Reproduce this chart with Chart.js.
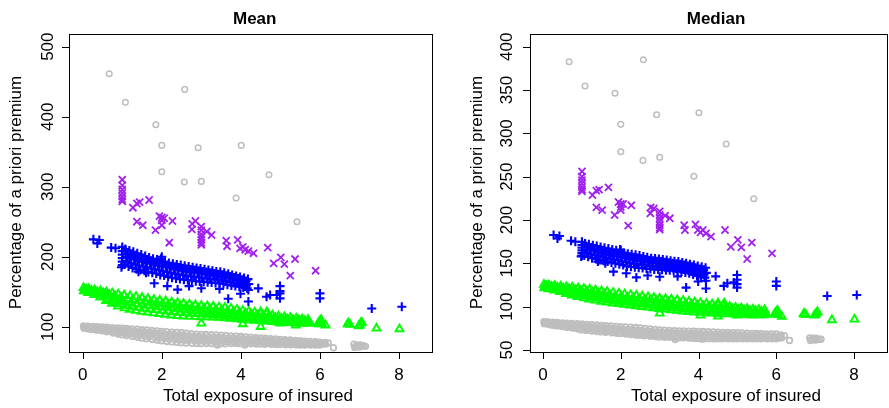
<!DOCTYPE html>
<html>
<head>
<meta charset="utf-8">
<script src="https://cdn.jsdelivr.net/npm/chart.js@4.4.1/dist/chart.umd.min.js"></script>
<style>
html, body { margin: 0; padding: 0; background: #fff; }
#wrap { position: relative; width: 889px; height: 408px; overflow: hidden; background: #fff; }
#meanChart { position: absolute; left: 0; top: 0; }
#medianChart { position: absolute; left: 444px; top: 0; }
</style>
</head>
<body>
<div id="wrap">
  <canvas id="meanChart" width="444" height="408"></canvas>
  <canvas id="medianChart" width="450" height="408"></canvas>
</div>
<script>
// tick labels
const xTicks = [0, 2, 4, 6, 8];
const meanTicks = [100, 200, 300, 400, 500];
const medianTicks = [50, 100, 150, 200, 250, 300, 350, 400];

// class 0 (grey circles, no claims): exposure, mean %, median %
const zeroExposure = [
  0.02,0.04,0.03, 0.13,0.11,0.15, 0.25,0.27,0.24, 0.37,0.39,0.36, 0.50,0.52,0.49,
  0.62,0.64,0.61, 0.75,0.74,0.77, 0.88,0.87,0.90, 1.00,1.01,0.99, 1.12,1.13,1.11,
  1.25,1.24,1.26, 1.38,1.37,1.39, 1.50,1.51,1.49, 1.62,1.63,1.61, 1.75,1.74,1.76,
  1.88,1.87,1.89, 2.00,2.01,1.99, 2.12,2.11,2.13, 2.25,2.24,2.26, 2.38,2.37,2.39,
  2.50,2.51,2.49, 2.62,2.63,2.61, 2.75,2.74,2.76, 2.88,2.87,2.89, 3.00,3.01,2.99,
  3.12,3.11,3.13, 3.25,3.24,3.26, 3.38,3.37,3.39, 3.50,3.51,3.49, 3.62,3.63,3.61,
  3.75,3.74,3.76, 3.88,3.87,3.89, 4.00,4.01,3.99, 4.12,4.11,4.13, 4.25,4.24,4.26,
  4.38,4.37,4.39, 4.50,4.51,4.49, 4.62,4.63,4.61, 4.75,4.74,4.76, 4.88,4.87,4.89,
  5.00,5.01,4.99, 5.12,5.11,5.13, 5.25,5.24,5.26, 5.38,5.37,5.39, 5.50,5.51,5.49,
  5.62,5.63,5.61, 5.75,5.74,5.76, 5.88,5.87,5.89, 6.00,6.01,5.99, 6.12,6.10,6.14,
  6.21, 6.34, 3.40, 4.10,
  6.86,6.90,6.95,7.00,7.02,7.05,7.10,7.15,6.88,
  0.08,0.07, 0.19,0.20, 0.31,0.32, 0.44,0.43, 0.56,0.57, 0.69,0.68, 0.81,0.82, 0.94,0.93, 1.06,1.07, 1.19,1.18,
  1.31,1.32, 1.44,1.43, 1.56,1.57, 1.69,1.68, 1.81,1.82, 1.94,1.93, 2.06,2.07, 2.19,2.18, 2.31,2.32, 2.44,2.43,
  2.56,2.57, 2.69,2.68, 2.81,2.82, 2.94,2.93, 3.06,3.07, 3.19,3.18, 3.31,3.32, 3.44,3.43, 3.56,3.57, 3.69,3.68,
  3.81,3.82, 3.94,3.93, 4.06,4.07, 4.19,4.18, 4.31,4.32, 4.44,4.43, 4.56,4.57, 4.69,4.68, 4.81,4.82, 4.94,4.93,
  5.06,5.07, 5.19,5.18, 5.31,5.32, 5.44,5.43, 5.56,5.57, 5.69,5.68, 5.81,5.82, 5.94,5.93, 6.06,6.07
];
const zeroMean = [
  101.2,99.5,98.0, 100.8,99.0,96.8, 100.4,98.2,95.9, 100.0,97.6,95.0, 99.6,96.8,94.1,
  99.2,96.0,92.8, 98.7,95.1,91.0, 98.3,94.3,89.6, 97.9,93.5,88.5, 97.4,92.7,87.3,
  96.9,91.9,86.2, 96.4,91.1,85.0, 95.9,90.3,83.9, 95.3,89.5,82.8, 94.7,88.8,81.8,
  94.1,88.0,80.8, 93.3,87.2,79.8, 92.8,86.6,79.0, 92.3,86.0,78.3, 91.8,85.4,77.6,
  91.3,84.8,77.0, 90.7,84.2,76.6, 90.1,83.6,76.3, 89.5,83.1,76.1, 89.0,82.6,76.0,
  88.8,82.3,76.0, 88.5,82.0,75.9, 88.3,81.7,75.8, 88.0,81.4,75.7, 87.5,81.1,75.7,
  87.0,80.9,76.0, 86.5,80.6,76.0, 86.0,80.3,76.0, 85.5,80.0,75.8, 85.0,79.7,75.6,
  84.5,79.4,75.4, 84.0,79.1,75.2, 83.5,78.8,75.0, 83.0,78.5,74.8, 82.5,78.2,74.6,
  82.0,77.9,74.5, 81.5,77.6,74.3, 81.0,77.3,74.2, 80.5,77.0,74.1, 80.0,76.7,74.0,
  79.5,76.4,74.0, 79.0,76.1,74.0, 78.5,75.9,74.0, 78.0,75.7,74.0, 77.6,76.2,75.5,
  77.0, 70.0, 74.0, 74.0,
  75.0,72.0,73.5,71.0,74.0,72.5,73.0,72.0,70.5,
  100.1,98.3, 99.6,97.5, 99.0,96.7, 98.5,95.9, 97.9,94.9, 97.3,93.7, 96.6,92.5, 96.0,91.5, 95.4,90.5, 94.7,89.5,
  94.1,88.6, 93.4,87.6, 92.8,86.6, 92.1,85.7, 91.4,84.9, 90.7,84.0, 90.0,83.2, 89.4,82.5, 88.9,81.8, 88.3,81.2,
  87.8,80.7, 87.2,80.2, 86.6,79.8, 86.1,79.5, 85.7,79.2, 85.4,79.1, 85.1,78.9, 84.9,78.7, 84.5,78.5, 84.1,78.4,
  83.8,78.3, 83.4,78.1, 83.0,78.0, 82.6,77.8, 82.2,77.5, 81.8,77.3, 81.3,77.0, 80.9,76.8, 80.6,76.5, 80.2,76.3,
  79.7,76.1, 79.3,75.8, 78.9,75.6, 78.6,75.4, 78.1,75.2, 77.7,75.0, 77.4,74.9, 77.0,74.8, 76.8,75.4
];
const zeroMedian = [
  82.8,81.5,80.2, 82.5,80.8,79.4, 82.1,80.2,78.6, 81.7,79.6,77.8, 81.2,79.0,77.0,
  80.9,78.4,76.1, 80.6,77.7,75.2, 80.3,77.1,74.1, 80.0,76.5,73.2, 79.6,75.9,72.6,
  79.2,75.3,72.0, 78.8,74.8,71.4, 78.4,74.3,70.9, 78.0,73.8,70.4, 77.7,73.3,69.9,
  77.3,72.8,69.4, 77.0,72.3,69.0, 76.7,71.8,68.4, 76.3,71.3,67.9, 75.9,70.9,67.4,
  75.5,70.4,67.0, 74.9,69.9,66.5, 74.3,69.4,66.0, 73.7,69.0,65.5, 73.1,68.6,65.0,
  72.9,68.3,64.8, 72.6,68.0,64.6, 72.4,67.8,64.4, 72.1,67.5,64.2, 71.9,67.3,64.0,
  71.8,67.1,63.7, 71.6,66.9,63.4, 71.5,66.7,63.2, 71.3,66.5,63.1, 71.0,66.3,63.0,
  70.8,66.1,63.0, 70.5,66.0,63.0, 70.4,65.8,63.0, 70.2,65.7,63.0, 70.1,65.6,63.0,
  70.0,65.5,63.0, 69.7,65.3,63.0, 69.5,65.2,63.0, 69.2,65.0,63.0, 69.0,64.9,63.0,
  68.8,64.8,63.0, 68.6,64.6,63.0, 68.5,64.5,63.0, 68.5,64.4,63.0, 67.5,65.0,64.0,
  66.5, 61.0, 62.0, 62.5,
  64.0,62.0,63.5,61.5,63.5,62.0,62.5,62.5,61.0,
  82.0,80.5, 81.4,79.7, 80.9,79.0, 80.4,78.3, 79.8,77.4, 79.4,76.6, 78.9,75.8, 78.5,75.0, 78.0,74.4, 77.5,73.7,
  77.0,73.1, 76.6,72.6, 76.1,72.1, 75.7,71.6, 75.3,71.1, 74.8,70.6, 74.4,70.1, 74.0,69.6, 73.6,69.1, 73.2,68.7,
  72.7,68.2, 72.1,67.7, 71.6,67.2, 71.1,66.8, 70.7,66.4, 70.4,66.2, 70.2,65.9, 70.0,65.7, 69.7,65.5, 69.5,65.2,
  69.3,65.0, 69.2,64.8, 69.0,64.7, 68.8,64.6, 68.6,64.5, 68.4,64.4, 68.2,64.3, 68.0,64.2, 67.9,64.2, 67.8,64.1,
  67.6,64.1, 67.4,64.0, 67.2,63.9, 67.0,63.9, 66.9,63.8, 66.7,63.7, 66.6,63.7, 66.5,63.7, 66.2,63.9
];

// class 1 (green triangles)
const oneExposure = [
  0.02,0.05,0.03, 0.15,0.17,0.14, 0.30,0.32,0.29, 0.45,0.47,0.44, 0.60,0.62,0.59,
  0.75,0.77,0.74, 0.90,0.92,0.89, 1.05,1.03,1.06, 1.20,1.22,1.19, 1.35,1.37,1.34,
  1.50,1.52,1.49, 1.65,1.67,1.64, 1.80,1.82,1.79, 1.95,1.97,1.94, 2.10,2.12,2.09,
  2.25,2.27,2.24, 2.40,2.42,2.39, 2.55,2.57,2.54, 2.70,2.72,2.69, 2.85,2.87,2.84,
  3.00,3.02,2.99, 3.15,3.17,3.14, 3.30,3.32,3.29, 3.45,3.47,3.44, 3.60,3.62,3.59,
  3.75,3.77,3.74, 3.90,3.92,3.89, 4.05,4.07,4.04, 4.20,4.22,4.19, 4.35,4.37,4.34,
  4.50,4.52,4.49, 4.65,4.67,4.64, 4.80,4.82,4.79, 4.95,4.97,4.94, 5.10,5.12,5.09,
  5.25,5.27,5.24, 5.40,5.42,5.39, 5.55,5.57,5.54, 5.70,5.72,5.69,
  3.00, 4.05, 4.50, 4.50, 4.66, 5.00, 5.02, 5.39, 5.46, 5.74,
  6.00, 5.97, 6.03, 6.05, 5.95, 6.14, 6.70, 6.73, 6.76, 7.00, 7.03, 7.06, 6.98, 7.43, 8.01,
  0.09,0.08, 0.22,0.23, 0.37,0.36, 0.52,0.53, 0.67,0.66, 0.82,0.83, 0.97,0.96, 1.12,1.13, 1.27,1.26, 1.42,1.43,
  1.57,1.56, 1.72,1.73, 1.87,1.86, 2.02,2.03, 2.17,2.16, 2.32,2.33, 2.47,2.46, 2.62,2.63, 2.77,2.76, 2.92,2.93,
  3.07,3.06, 3.22,3.23, 3.37,3.36, 3.52,3.53, 3.67,3.66, 3.82,3.83, 3.97,3.96, 4.12,4.13, 4.27,4.26, 4.42,4.43,
  4.57,4.56, 4.72,4.73, 4.87,4.86, 5.02,5.03, 5.17,5.16, 5.32,5.33, 5.47,5.46, 5.62,5.63
];
const oneMean = [
  155.5,153.0,151.0, 154.0,151.0,148.5, 152.5,149.0,145.5, 151.0,147.0,142.0, 149.5,145.0,137.0,
  148.0,141.5,133.0, 146.5,138.5,129.0, 145.0,136.0,126.5, 144.0,134.5,124.5, 143.0,133.0,123.0,
  141.5,131.5,121.5, 140.0,130.5,120.5, 138.5,129.5,119.5, 137.5,128.5,118.5, 136.5,127.5,117.5,
  135.0,126.5,116.5, 134.0,125.5,115.5, 133.0,124.5,115.0, 132.0,123.5,114.8, 131.0,122.5,114.5,
  130.0,122.0,114.0, 129.5,121.5,113.7, 129.0,120.5,113.3, 128.0,120.0,113.2, 127.5,119.0,112.5,
  126.0,118.0,111.8, 124.5,117.0,111.0, 123.0,116.0,110.3, 122.0,115.0,109.6, 120.5,114.0,109.0,
  119.0,113.0,108.3, 118.0,112.0,107.7, 116.5,111.0,107.0, 115.0,110.0,106.4, 114.0,109.0,106.0,
  113.0,108.0,105.5, 112.0,107.5,105.0, 111.0,107.0,104.7, 110.0,106.5,104.4,
  104.8, 104.0, 100.0, 121.0, 121.0, 105.0, 109.0, 102.0, 107.0, 106.0,
  108.0, 106.0, 110.0, 104.0, 104.0, 102.0, 104.0, 105.0, 103.0, 102.0, 105.0, 106.0, 101.0, 97.6, 96.7,
  153.4,150.9, 151.6,148.5, 149.9,145.9, 148.1,142.8, 146.0,139.1, 143.6,135.5, 141.5,132.5, 139.9,130.4, 138.6,128.8, 137.3,127.3,
  135.9,126.0, 134.6,125.0, 133.5,124.0, 132.5,123.0, 131.4,122.0, 130.3,121.0, 129.3,120.1, 128.3,119.5, 127.3,118.8, 126.4,118.3,
  125.8,117.8, 125.1,117.3, 124.4,116.8, 123.6,116.2, 122.6,115.3, 121.4,114.5, 120.1,113.6, 119.0,112.7, 117.9,111.9, 116.6,111.1,
  115.5,110.3, 114.4,109.4, 113.1,108.6, 112.0,107.9, 111.0,107.1, 110.1,106.5, 109.4,106.1, 108.6,105.7
];
const oneMedian = [
  125.5,123.5,121.5, 124.8,122.4,120.3, 124.2,121.3,118.9, 123.5,120.1,117.2, 122.8,119.0,115.0,
  122.2,117.8,113.2, 121.5,116.5,111.3, 120.8,115.5,110.0, 120.0,114.3,108.6, 119.0,113.2,107.3,
  118.0,112.0,106.0, 117.2,111.0,105.0, 116.2,109.9,104.0, 115.3,108.9,103.2, 114.5,108.0,102.4,
  113.7,107.1,101.6, 113.0,106.3,100.8, 112.1,105.5,100.0, 111.2,104.7,99.2, 110.4,103.9,98.4,
  109.5,103.1,97.5, 108.9,102.4,96.9, 108.3,101.7,96.2, 107.7,101.0,95.5, 106.9,100.3,94.8,
  106.0,99.6,94.2, 105.2,98.9,93.6, 104.4,98.3,93.1, 103.6,97.7,92.7, 102.8,97.1,92.3,
  102.0,96.6,92.0, 101.0,96.0,91.7, 100.0,95.4,91.4, 99.0,94.8,91.1, 98.3,94.3,90.9,
  97.6,93.8,90.7, 97.0,93.4,90.5, 96.6,93.0,90.3, 96.2,92.6,90.2,
  92.3, 90.0, 89.0, 104.0, 104.0, 90.0, 96.0, 90.0, 93.5, 92.0,
  94.0, 92.5, 95.5, 90.5, 91.0, 88.5, 91.5, 92.0, 90.5, 90.5, 92.5, 94.0, 90.0, 84.6, 85.4,
  124.1,121.9, 123.2,120.7, 122.3,119.4, 121.4,117.8, 120.5,116.3, 119.5,114.7, 118.6,113.3, 117.7,112.1, 116.6,110.9, 115.6,109.6,
  114.6,108.5, 113.6,107.5, 112.6,106.5, 111.7,105.6, 110.8,104.8, 110.0,104.0, 109.2,103.2, 108.4,102.4, 107.6,101.6, 106.7,100.7,
  106.0,100.0, 105.3,99.3, 104.7,98.6, 104.0,97.9, 103.2,97.2, 102.4,96.6, 101.7,96.0, 101.0,95.5, 100.3,95.0, 99.6,94.5,
  98.9,94.1, 98.1,93.6, 97.3,93.2, 96.6,92.8, 96.0,92.4, 95.5,92.1, 95.0,91.8, 94.6,91.5
];

// class 2 (blue plus)
const twoExposure = [
  0.27,0.42,0.37,0.72,0.83,
  1.00,1.00,1.00,1.00,1.00,1.00,0.98,
  1.08,1.10,1.06, 1.18,1.20,1.16, 1.28,1.30,1.26, 1.38,1.40,1.36, 1.48,1.50,1.46,
  1.58,1.60,1.56, 1.68,1.70,1.66, 1.78,1.80,1.76, 1.88,1.90,1.86, 1.98,2.00,1.96,
  2.08,2.10,2.06, 2.18,2.20,2.16, 2.28,2.30,2.26, 2.38,2.40,2.36, 2.48,2.50,2.46,
  2.58,2.60,2.56, 2.68,2.70,2.66, 2.78,2.80,2.76, 2.88,2.90,2.86, 2.98,3.00,2.96,
  3.08,3.10,3.06, 3.18,3.20,3.16, 3.28,3.30,3.26, 3.38,3.40,3.36, 3.48,3.50,3.46,
  3.58,3.60,3.56, 3.68,3.70,3.66, 3.78,3.80,3.76, 3.88,3.90,3.86, 3.98,4.00,3.96,
  4.08,4.10,4.06, 4.18,4.20,4.16,
  1.41,1.60,1.81,2.14,2.40, 2.69,3.00,3.46,3.68,3.99, 4.19,4.19,4.44,4.65,4.74,
  4.91,4.99,4.99,4.99,4.99, 6.00,6.00,7.31,8.07,2.00,
  1.13,1.14, 1.23,1.22, 1.33,1.34, 1.43,1.42, 1.53,1.54, 1.63,1.62, 1.73,1.74, 1.83,1.82, 1.93,1.94, 2.03,2.02,
  2.13,2.14, 2.23,2.22, 2.33,2.34, 2.43,2.42, 2.53,2.54, 2.63,2.62, 2.73,2.74, 2.83,2.82, 2.93,2.94, 3.03,3.02,
  3.13,3.14, 3.23,3.22, 3.33,3.34, 3.43,3.42, 3.53,3.54, 3.63,3.62, 3.73,3.74, 3.83,3.82, 3.93,3.94, 4.03,4.02,
  4.13,4.14
];
const twoMean = [
  224.8,223.8,219.0,213.0,212.0,
  214.0,208.0,203.0,198.0,193.0,188.0,185.0,
  211,200,189, 209,198,186, 207,196,184, 205,194,182, 203,192.5,181,
  201,191,180, 199,190,178, 197,188.5,177, 196,187,176, 197,186,174,
  192,185,173, 191,184,171, 190,182,170, 189,181,169, 188,180,168,
  187,179,167, 186,178,166.5, 185,177.5,166, 184,177,165, 183,176,164.5,
  182,175,164, 181,174,163.5, 180,173,163, 179,172,162.5, 178.5,171,162,
  177,170,161, 175.5,169,160, 174,168,159, 172.5,166.5,158, 171,165,157,
  169.5,163,156, 168,161,155,
  178.6,177.0,162.0,158.0,153.0, 158.0,155.0,154.0,140.0,147.0, 136.0,152.4,154.8,142.9,145.3,
  145.3,158.0,151.0,147.6,140.5, 147.6,140.5,126.0,128.6,200.0,
  204.5,193.2, 202.5,191.0, 200.5,189.0, 198.6,187.4, 196.9,186.1, 195.3,184.8, 193.6,183.4, 192.1,182.1, 191.5,180.8, 190.0,179.5,
  188.0,178.2, 186.5,176.8, 185.5,175.5, 184.5,174.5, 183.5,173.5, 182.5,172.6, 181.6,171.8, 180.9,171.4, 180.0,170.6, 179.0,169.9,
  178.0,169.1, 177.0,168.4, 176.0,167.6, 175.1,166.9, 174.1,166.0, 172.9,165.0, 171.6,164.0, 170.3,162.9, 168.8,161.6, 167.1,160.3,
  165.4,158.8
];
const twoMedian = [
  182.7,181.5,178.8,176.0,175.0,
  175.0,171.0,168.0,165.0,162.0,159.0,158.0,
  173,166,159, 172,165,157.5, 171,164,156, 170,162.5,155, 169,161.5,154,
  168,160.5,153, 167,159.5,152, 166,158.5,151, 165,158,150, 166,157,149,
  162,156,148, 161,155,146.5, 160.5,154,146, 160,153,145.5, 159,152.5,145,
  158,152,144.5, 157,151,144, 156,150.5,143.5, 155.5,150,143, 155,149.5,143,
  154.5,149,142.5, 154,148,142, 153,147.5,142, 152.5,147,141.5, 152,146.5,141,
  151,146,140.5, 150,145,139.5, 149,144,138.5, 148,143,137, 147,141.5,135.5,
  146,140,134.5, 145,139,133.5,
  152.0,150.0,140.4,138.5,133.8, 136.0,134.6,135.0,122.0,129.0, 121.0,130.0,135.0,124.0,127.0,
  128.0,136.5,131.0,126.0,122.0, 129.0,124.0,112.3,113.5,165.0,
  169.0,161.9, 168.0,160.6, 166.9,159.4, 165.8,158.3, 164.8,157.3, 163.8,156.3, 162.8,155.3, 161.9,154.4, 161.5,153.5, 160.3,152.5,
  158.5,151.4, 157.6,150.4, 156.9,149.6, 156.1,148.9, 155.4,148.5, 154.5,147.9, 153.6,147.3, 153.0,146.8, 152.5,146.4, 152.0,146.0,
  151.4,145.4, 150.6,144.9, 150.0,144.5, 149.5,144.0, 148.9,143.5, 148.0,142.8, 147.0,141.8, 146.0,140.6, 144.9,139.3, 143.6,137.9,
  142.5,136.8
];

// class 3 (purple x)
const threeExposure = [
  1.00,1.00,1.00,1.00,1.00,1.00,1.00,
  1.27,1.37,1.44,1.68,1.37,1.52,1.84,1.94,2.00,2.06,2.00,2.00,2.27,2.19,2.77,2.85,2.76,
  3.00,3.00,3.00,3.00,3.00,3.00,3.00,
  3.14,3.26,3.63,3.65,3.92,3.98,4.05,4.11,4.19,4.32,4.68,4.83,5.01,5.10,5.25,5.37,5.89
];
const threeMean = [
  310,302,296,291,286,282,279,
  270,276,278,281,250,245,238,258,256,255,245,252,251,220,247,251,239,
  243,238,232,228,224,220,217,
  236,231,223,215,224,212,214,210,208,205,213,190.5,199,189.5,173,196.7,180
];
const threeMedian = [
  256,250,246,242,238,235,233,
  228.8,234,235,237.7,214.6,211.5,205.8,220.8,218.5,218.5,211.5,215,217,193.5,214.6,213.5,207.7,
  210,206,202,198,194,191,189,
  205,202,194,188.5,195,188.5,185.8,188.5,184.6,180.8,188.5,169,177,168.5,155,174,161.5
];

// class 4 (grey circles, scattered high)
const fourExposure = [0.67,1.08,1.85,2.00,2.00,2.58,2.57,2.92,3.00,3.88,4.01,4.71,5.42];
const fourMean = [461.4,420.5,388.6,359.0,321.4,439.0,306.7,355.7,307.6,283.8,359.0,317.0,250.0];
const fourMedian = [382.7,354.6,346.2,310.4,278.8,385.0,268.8,321.5,272.3,250.4,323.8,287.7,224.6];

const FONT = '"Liberation Sans", Arial, Helvetica, sans-serif';

function pts(xs, ys) {
  if (xs.length !== ys.length) throw new Error('length mismatch ' + xs.length + ' vs ' + ys.length);
  return xs.map((x, i) => ({ x: x, y: ys[i] }));
}

function makeDatasets(y0, y1, y2, y3, y4) {
  const base = { pointBackgroundColor: 'rgba(0,0,0,0)', showLine: false };
  return [
    Object.assign({}, base, { label: 'class 4', data: pts(fourExposure, y4), pointStyle: 'circle', pointRadius: 2.8, pointBorderWidth: 1.5, pointBorderColor: '#BEBEBE' }),
    Object.assign({}, base, { label: 'class 3', data: pts(threeExposure, y3), pointStyle: 'crossRot', pointRadius: 5, pointBorderWidth: 1.8, pointBorderColor: '#A020F0' }),
    Object.assign({}, base, { label: 'class 2', data: pts(twoExposure, y2), pointStyle: 'cross', pointRadius: 4.5, pointBorderWidth: 2.1, pointBorderColor: '#0000FF' }),
    Object.assign({}, base, { label: 'class 1', data: pts(oneExposure, y1), pointStyle: 'triangle', pointRadius: 4.5, pointBorderWidth: 1.9, pointBorderColor: '#00FF00' }),
    Object.assign({}, base, { label: 'class 0', data: pts(zeroExposure, y0), pointStyle: 'circle', pointRadius: 2.8, pointBorderWidth: 1.8, pointBorderColor: '#BEBEBE' })
  ];
}

function vtext(ctx, txt, x, y) {
  ctx.save();
  ctx.translate(x, y);
  ctx.rotate(-Math.PI / 2);
  ctx.textAlign = 'center';
  ctx.textBaseline = 'alphabetic';
  ctx.fillText(txt, 0, 0);
  ctx.restore();
}

// R style frame: box, outside ticks, rotated y labels, titles
function frame(cfg) {
  return {
    id: 'rframe',
    afterDraw(chart) {
      const ctx = chart.ctx, a = chart.chartArea;
      const xs = chart.scales.x, ys = chart.scales.y;
      ctx.save();
      ctx.strokeStyle = '#000';
      ctx.fillStyle = '#000';
      ctx.lineWidth = 1;
      ctx.strokeRect(Math.round(a.left) + 0.5, Math.round(a.top) - 0.5,
        Math.round(a.right - a.left), Math.round(a.bottom - a.top) + 1);
      ctx.beginPath();
      cfg.xTicks.forEach(v => {
        const px = Math.round(xs.getPixelForValue(v)) + 0.5;
        ctx.moveTo(px, a.bottom); ctx.lineTo(px, a.bottom + 7);
      });
      cfg.yTicks.forEach(v => {
        const py = Math.round(ys.getPixelForValue(v)) + 0.5;
        ctx.moveTo(a.left, py); ctx.lineTo(a.left - 7, py);
      });
      ctx.stroke();

      ctx.font = '17px ' + FONT;
      ctx.textAlign = 'center';
      ctx.textBaseline = 'alphabetic';
      cfg.xTicks.forEach(v => ctx.fillText(String(v), xs.getPixelForValue(v), 380));
      cfg.yTicks.forEach(v => vtext(ctx, String(v), cfg.yLabelX, ys.getPixelForValue(v)));
      ctx.fillText(cfg.xTitle, cfg.xTitleX, 401);
      vtext(ctx, cfg.yTitle, cfg.yTitleX, 192.5);

      ctx.font = 'bold 17px ' + FONT;
      ctx.fillText(cfg.title, cfg.titleX, 23.5);
      ctx.restore();
    }
  };
}

function makeChart(id, datasets, xr, yr, pad, cfg) {
  return new Chart(document.getElementById(id), {
    type: 'scatter',
    data: { datasets: datasets },
    options: {
      responsive: false,
      animation: false,
      events: [],
      layout: { padding: pad },
      plugins: { legend: { display: false }, tooltip: { enabled: false } },
      scales: {
        x: { type: 'linear', display: false, min: xr[0], max: xr[1] },
        y: { type: 'linear', display: false, min: yr[0], max: yr[1] }
      }
    },
    plugins: [frame(cfg)]
  });
}

makeChart('meanChart',
  makeDatasets(zeroMean, oneMean, twoMean, threeMean, fourMean),
  [-0.3465, 8.834], [63.9, 516.7],
  { left: 69, top: 35, right: 12, bottom: 56 },
  { title: 'Mean', titleX: 254.7, xTitle: 'Total exposure of insured', xTitleX: 258,
    yTitle: 'Percentage of a priori premium', yTitleX: 21, yLabelX: 53.3,
    xTicks: xTicks, yTicks: meanTicks });

makeChart('medianChart',
  makeDatasets(zeroMedian, oneMedian, twoMedian, threeMedian, fourMedian),
  [-0.3367, 8.853], [47.7, 413.5],
  { left: 86, top: 35, right: 1, bottom: 56 },
  { title: 'Median', titleX: 272, xTitle: 'Total exposure of insured', xTitleX: 282,
    yTitle: 'Percentage of a priori premium', yTitleX: 37.7, yLabelX: 68.3,
    xTicks: xTicks, yTicks: medianTicks });
</script>
</body>
</html>
